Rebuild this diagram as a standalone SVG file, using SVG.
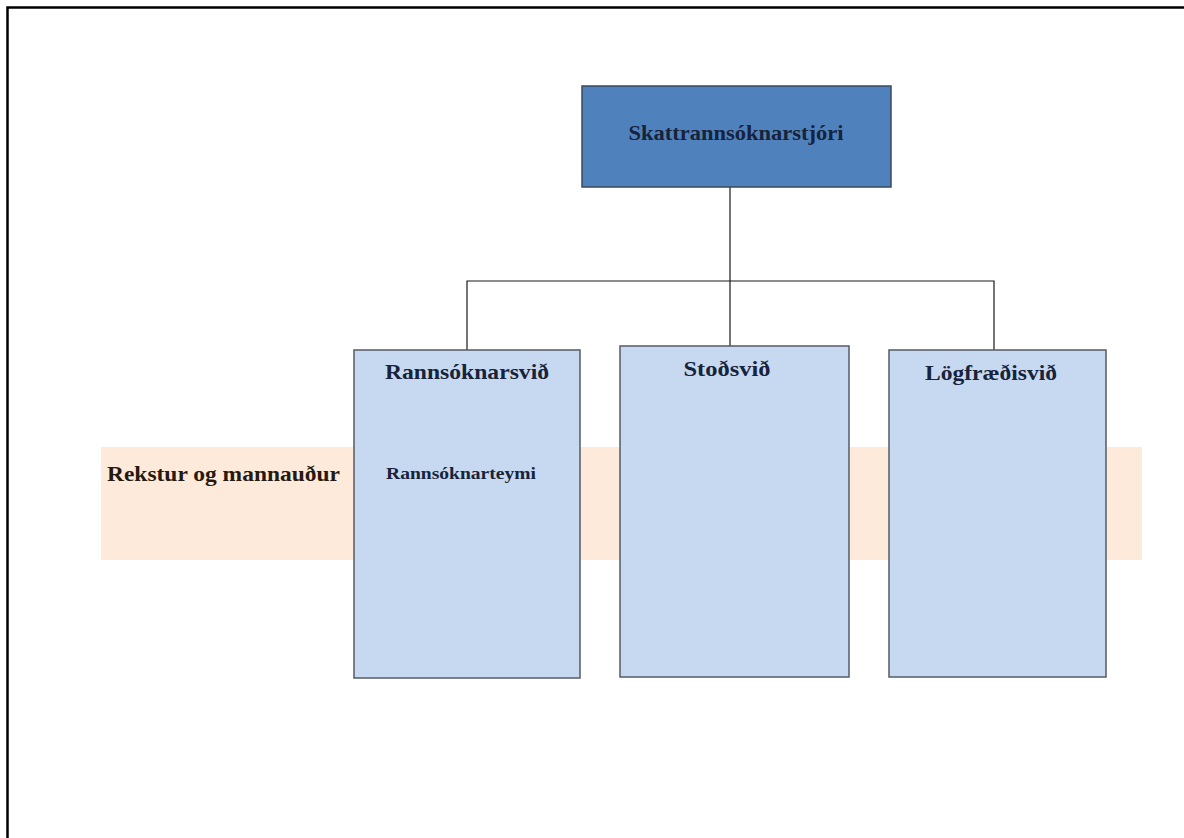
<svg xmlns="http://www.w3.org/2000/svg" width="1184" height="838" viewBox="0 0 1184 838">
<style>
.frame{fill:none;stroke:#000;stroke-width:2.5}
.band{fill:#fdeada}
.unit{fill:#c6d9f1;stroke:#555b63;stroke-width:1.5}
.top{fill:#4f81bd;stroke:#3b4a5c;stroke-width:1.5}
.conn{fill:none;stroke:#1a1a1a;stroke-width:1.2}
.lbl{font-family:"Liberation Serif","Times New Roman",serif;font-weight:bold;fill:#17233a}
.side{font-family:"Liberation Serif","Times New Roman",serif;font-weight:bold;fill:#26190f}
</style>
<rect x="0" y="0" width="1184" height="838" fill="#fff"/>
<rect class="frame" x="7.5" y="7.5" width="1190" height="850"/>
<g id="band">
<rect class="band" x="101" y="447" width="1041" height="113"/>
<text class="side" x="107" y="481" font-size="21" textLength="233" lengthAdjust="spacingAndGlyphs">Rekstur og mannauður</text>
</g>
<g id="connectors">
<line class="conn" x1="730" y1="187" x2="730" y2="346"/>
<polyline class="conn" points="467,350 467,281 994,281 994,350"/>
</g>
<g id="node-stjori">
<rect class="top" x="582" y="86" width="309" height="101"/>
<text class="lbl" x="736" y="140" font-size="20" text-anchor="middle" textLength="215" lengthAdjust="spacingAndGlyphs">Skattrannsóknarstjóri</text>
</g>
<g id="node-rannsoknarsvid">
<rect class="unit" x="354" y="350" width="226" height="328"/>
<text class="lbl" x="467" y="379" font-size="21" text-anchor="middle" textLength="164" lengthAdjust="spacingAndGlyphs">Rannsóknarsvið</text>
<text class="lbl" x="386" y="479" font-size="17" textLength="150" lengthAdjust="spacingAndGlyphs">Rannsóknarteymi</text>
</g>
<g id="node-stodsvid">
<rect class="unit" x="620" y="346" width="229" height="331"/>
<text class="lbl" x="727" y="376" font-size="21" text-anchor="middle" textLength="87" lengthAdjust="spacingAndGlyphs">Stoðsvið</text>
</g>
<g id="node-logfraedisvid">
<rect class="unit" x="889" y="350" width="217" height="327"/>
<text class="lbl" x="991" y="380" font-size="21" text-anchor="middle" textLength="132" lengthAdjust="spacingAndGlyphs">Lögfræðisvið</text>
</g>
</svg>
